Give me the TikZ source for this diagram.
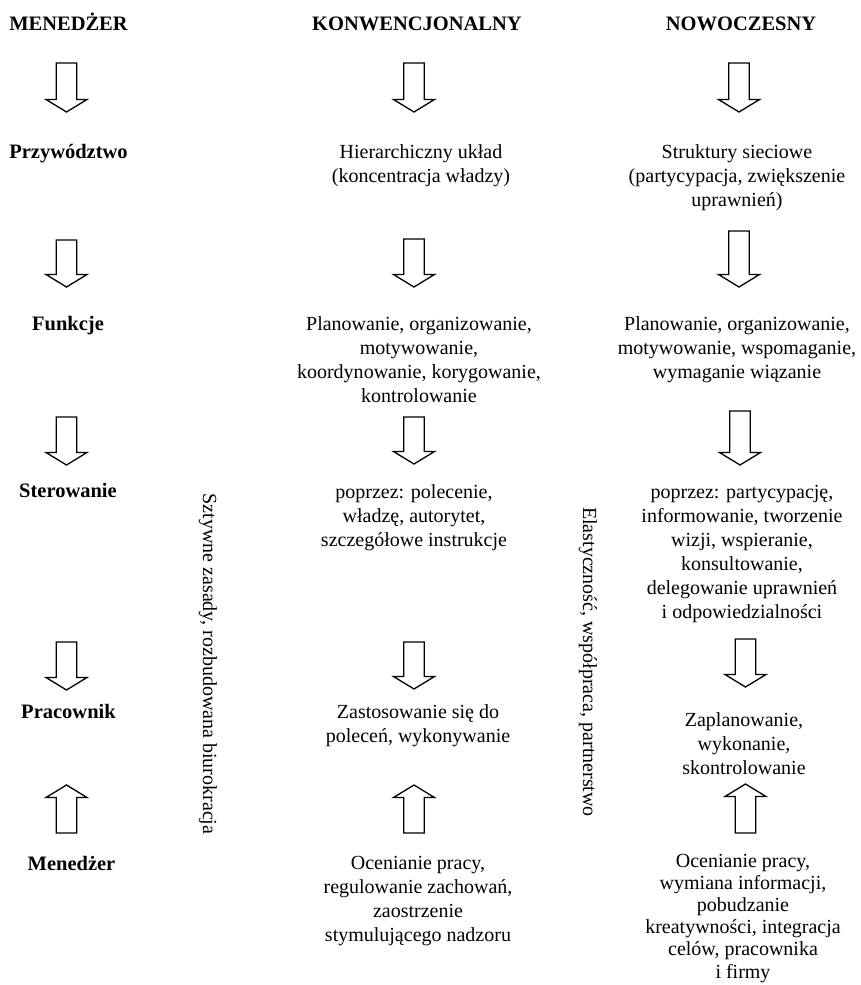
\documentclass[tikz,border=0pt]{standalone}
\usepackage{fontspec}
\setmainfont{Liberation Serif}
\newcommand{\stack}[1]{\begin{tabular}[t]{@{}c@{}}#1\end{tabular}}
% hollow block arrow pointing down: x, top of shaft, tip
\newcommand{\downblock}[3]{%
  \draw[blockarrow] (#1-10.3,#2) -- (#1+10.3,#2) -- (#1+10.3,#3-12.5)
    -- (#1+20.5,#3-12.5) -- (#1,#3) -- (#1-20.5,#3-12.5) -- (#1-10.3,#3-12.5) -- cycle;}
% hollow block arrow pointing up: x, tip, bottom of shaft
\newcommand{\upblock}[3]{%
  \draw[blockarrow] (#1-10.3,#3) -- (#1+10.3,#3) -- (#1+10.3,#2+12.5)
    -- (#1+20.5,#2+12.5) -- (#1,#2) -- (#1-20.5,#2+12.5) -- (#1-10.3,#2+12.5) -- cycle;}
\begin{document}
\begin{tikzpicture}[x=1pt,y=-1pt,
  blockarrow/.style={draw=black, line width=1.3pt, fill=white, line join=miter},
  txt/.style={anchor=base, inner sep=0pt, font=\fontsize{20}{24}\selectfont},
  head/.style={txt, font=\fontsize{20.5}{24}\selectfont\bfseries},
  side/.style={inner sep=0pt, rotate=-90, font=\fontsize{20}{24}\selectfont}]
\useasboundingbox[fill=white] (0,0) rectangle (860,985);

% column headings
\node[head] (hLeft)  at (68.5,30) {MENEDŻER};
\node[head] (hMid)   at (417,30)  {KONWENCJONALNY};
\node[head] (hRight) at (741,30)  {NOWOCZESNY};

% left column: aspects
\node[head] (lLead)  at (68.5,158) {Przywództwo};
\node[head] (lFunc)  at (68,330)   {Funkcje};
\node[head] (lCtrl)  at (68,497)   {Sterowanie};
\node[head] (lWork)  at (68.5,718) {Pracownik};
\node[head] (lMgr)   at (71.5,870) {Menedżer};

% middle column: conventional approach
\node[txt] (mLead) at (421,158) {\stack{Hierarchiczny układ\\(koncentracja władzy)}};
\node[txt] (mFunc) at (419,330) {\stack{Planowanie, organizowanie,\\motywowanie,\\koordynowanie, korygowanie,\\kontrolowanie}};
\node[txt] (mCtrl) at (414,498) {\stack{poprzez: polecenie,\\władzę, autorytet,\\szczegółowe instrukcje}};
\node[txt] (mWork) at (418,718) {\stack{Zastosowanie się do\\poleceń, wykonywanie}};
\node[txt] (mMgr)  at (418,869) {\stack{Ocenianie pracy,\\regulowanie zachowań,\\zaostrzenie\\stymulującego nadzoru}};

% right column: modern approach
\node[txt] (rLead) at (737,158) {\stack{Struktury sieciowe\\(partycypacja, zwiększenie\\uprawnień)}};
\node[txt] (rFunc) at (737,330) {\stack{Planowanie, organizowanie,\\motywowanie, wspomaganie,\\wymaganie wiązanie}};
\node[txt] (rCtrl) at (742,498) {\stack{poprzez: partycypację,\\informowanie, tworzenie\\wizji, wspieranie,\\konsultowanie,\\delegowanie uprawnień\\i odpowiedzialności}};
\node[txt] (rWork) at (744,726) {\stack{Zaplanowanie,\\wykonanie,\\skontrolowanie}};
\node[txt, font=\fontsize{20}{22.2}\selectfont] (rMgr) at (743,867) {\stack{Ocenianie pracy,\\wymiana informacji,\\pobudzanie\\kreatywności, integracja\\celów, pracownika\\i firmy}};

% vertical captions
\node[side] (sRigid) at (208,664) {Sztywne zasady, rozbudowana biurokracja};
\node[side] (sFlex)  at (588,662) {Elastyczność, współpraca, partnerstwo};

% block arrows, left column
\downblock{66.5}{63}{112}
\downblock{66.5}{240}{287}
\downblock{66.5}{417}{465}
\downblock{66.5}{642}{690}
\upblock{66.5}{785}{833}

% block arrows, middle column
\downblock{414}{63}{112}
\downblock{414}{239}{287}
\downblock{414}{417}{464}
\downblock{414}{642}{689}
\upblock{414}{785}{833}

% block arrows, right column
\downblock{739}{63}{112}
\downblock{739}{231}{287}
\downblock{740}{411}{465}
\downblock{745.5}{639}{687}
\upblock{745.5}{784}{833}
\end{tikzpicture}
\end{document}
